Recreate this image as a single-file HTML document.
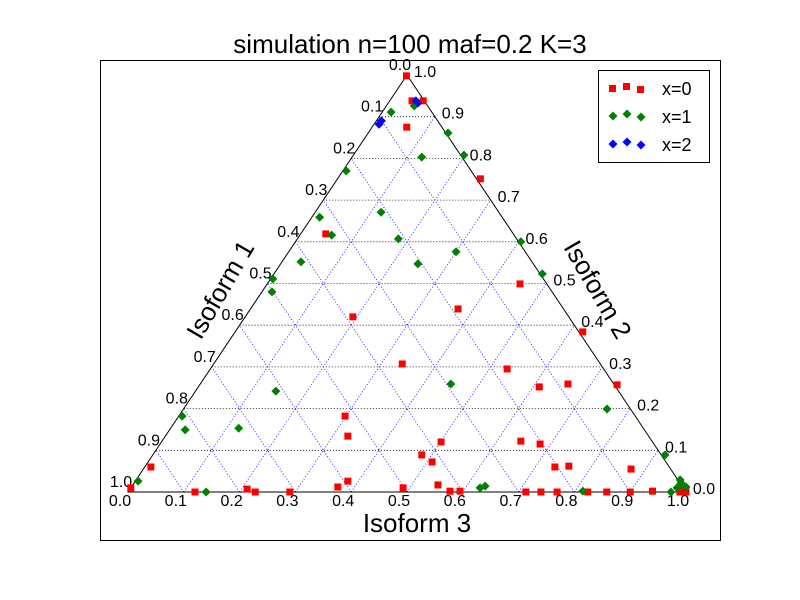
<!DOCTYPE html>
<html><head><meta charset="utf-8"><style>
body{margin:0;background:#fff}
svg{display:block;font-family:"Liberation Sans","DejaVu Sans",sans-serif}
</style></head><body>
<svg id="chart" width="800" height="600" viewBox="0 0 800 600">
<rect x="0" y="0" width="800" height="600" fill="#fff"/>
<rect x="100.5" y="60.5" width="620" height="480" fill="#fff" stroke="#000"/>
<text x="410" y="53" font-size="26" text-anchor="middle">simulation n=100 maf=0.2 K=3</text>
<g id="grid"></g>
<polygon id="tri" fill="none" stroke="#000" stroke-width="1"/>
<g id="ticks"></g>
<g id="marks"></g>
<text x="417" y="532" font-size="26" text-anchor="middle">Isoform 3</text>
<text x="0" y="0" font-size="26" text-anchor="middle" transform="translate(228,294) rotate(-60)">Isoform 1</text>
<text x="0" y="0" font-size="26" text-anchor="middle" transform="translate(590,294) rotate(60)">Isoform 2</text>
<g>
<rect x="598.5" y="70.5" width="111" height="92" fill="#fff" stroke="#000"/>
<g>
<rect x="609" y="85" width="7" height="7" fill="red"/><rect x="623" y="83" width="7" height="7" fill="red"/><rect x="637" y="86" width="7" height="7" fill="red"/>
<text x="662" y="95" font-size="18">x=0</text></g>
<g>
<path d="M613,111.5l4.5,4.5l-4.5,4.5l-4.5,-4.5z M627,109.5l4.5,4.5l-4.5,4.5l-4.5,-4.5z M641,112.5l4.5,4.5l-4.5,4.5l-4.5,-4.5z" fill="green"/>
<text x="662" y="123" font-size="18">x=1</text></g>
<g>
<path d="M613,139.5l4.5,4.5l-4.5,4.5l-4.5,-4.5z M627,137.5l4.5,4.5l-4.5,4.5l-4.5,-4.5z M641,140.5l4.5,4.5l-4.5,4.5l-4.5,-4.5z" fill="blue"/>
<text x="662" y="151" font-size="18">x=2</text></g>
</g>
</svg>
<script>
// barycentric data: s = weight of bottom-right vertex, t = weight of top vertex
const redS = [0.000,0.011,0.120,0.210,0.228,0.290,0.370,0.381,0.298,0.327,0.045,0.193,0.338,0.488,0.062,0.040,0.060,0.482,0.509,0.501,0.547,0.576,0.594,0.372,0.256,0.453,0.532,0.643,0.681,0.611,0.659,0.623,0.748,0.735,0.759,0.713,0.740,0.769,0.824,0.858,0.900,0.874,0.939,0.984,0.989,1.000,0.989,0.000];
const redT = [0.010,0.060,0.000,0.007,0.000,0.000,0.012,0.026,0.182,0.134,0.619,0.420,0.307,0.010,0.875,0.938,0.938,0.089,0.072,0.120,0.017,0.002,0.002,0.439,0.751,0.499,0.295,0.122,0.115,0.252,0.259,0.384,0.257,0.060,0.062,0.000,0.000,0.000,0.000,0.000,0.000,0.055,0.002,0.007,0.012,0.000,0.000,0.998];
const greenS = [0.005,0.006,0.028,0.140,0.122,0.144,0.018,0.004,0.034,0.014,0.057,0.006,0.118,0.016,0.181,0.050,0.246,0.125,0.143,0.449,0.300,0.198,0.404,0.481,0.626,0.633,0.814,0.759,0.918,0.975,0.980,0.994,0.973,0.979];
const greenT = [0.026,0.182,0.149,0.000,0.153,0.242,0.480,0.511,0.552,0.659,0.616,0.770,0.671,0.911,0.607,0.926,0.547,0.803,0.861,0.259,0.576,0.808,0.600,0.523,0.010,0.014,0.002,0.199,0.089,0.029,0.022,0.012,0.000,0.010];
const blueS = [0.009,0.009,0.047,0.053];
const blueT = [0.882,0.890,0.938,0.933];
const tickLabels = ["0.0","0.1","0.2","0.3","0.4","0.5","0.6","0.7","0.8","0.9","1.0"];

const NS="http://www.w3.org/2000/svg";
const X0=128, Y0=492, W=558, H=417;
function px(s,t){return X0+W*s+W/2*t;}
function py(s,t){return Y0-H*t;}
function mk(tag,attrs,parent){const e=document.createElementNS(NS,tag);for(const k in attrs)e.setAttribute(k,attrs[k]);parent.appendChild(e);return e;}

document.getElementById('tri').setAttribute('points',`${px(0,0)},${py(0,0)} ${px(1,0)},${py(1,0)} ${px(0,1)},${py(0,1)}`);

const grid=document.getElementById('grid');
for(let k=1;k<10;k++){
  const f=k/10;
  let l=mk('line',{x1:px(0,f),y1:py(0,f),x2:px(1-f,f),y2:py(1-f,f),stroke:'#000','stroke-width':0.8,'stroke-dasharray':'1,2'},grid);
  
  
  l=mk('line',{x1:px(f,0),y1:py(f,0),x2:px(f,1-f),y2:py(f,1-f),stroke:'blue','stroke-width':0.8,'stroke-dasharray':'1,2'},grid);
  
  
  l=mk('line',{x1:px(f,0),y1:py(f,0),x2:px(0,f),y2:py(0,f),stroke:'blue','stroke-width':0.8,'stroke-dasharray':'1,2'},grid);
  
  
}

const ticks=document.getElementById('ticks');
tickLabels.forEach((lab,k)=>{
  const f=k/10;
  let t=mk('text',{x:px(f,0)-8,y:py(f,0)+14,'font-size':16,'text-anchor':'middle'},ticks);
  t.textContent=lab;
  
  
  t=mk('text',{x:px(0,1-f)-7,y:py(0,1-f)-5,'font-size':16,'text-anchor':'middle'},ticks);
  t.textContent=lab;
  
  
  t=mk('text',{x:px(1-f,f)+18,y:py(1-f,f)+2,'font-size':16,'text-anchor':'middle'},ticks);
  t.textContent=lab;
  
  
});

const marks=document.getElementById('marks');
redS.forEach((s,i)=>{
  const x=px(s,redT[i]),y=py(s,redT[i]);
  const r=mk('rect',{x:x-3.5,y:y-3.5,width:7,height:7,fill:'red'},marks);
  
  
});
function diamonds(S,T,color,name){
  S.forEach((s,i)=>{
    const x=px(s,T[i]),y=py(s,T[i]);
    const d=mk('path',{d:`M${x},${y-4.5}l4.5,4.5l-4.5,4.5l-4.5,-4.5z`,fill:color},marks);
    
    
  });
}
diamonds(greenS,greenT,'green','point-x1');
diamonds(blueS,blueT,'blue','point-x2');
</script>
</body></html>
